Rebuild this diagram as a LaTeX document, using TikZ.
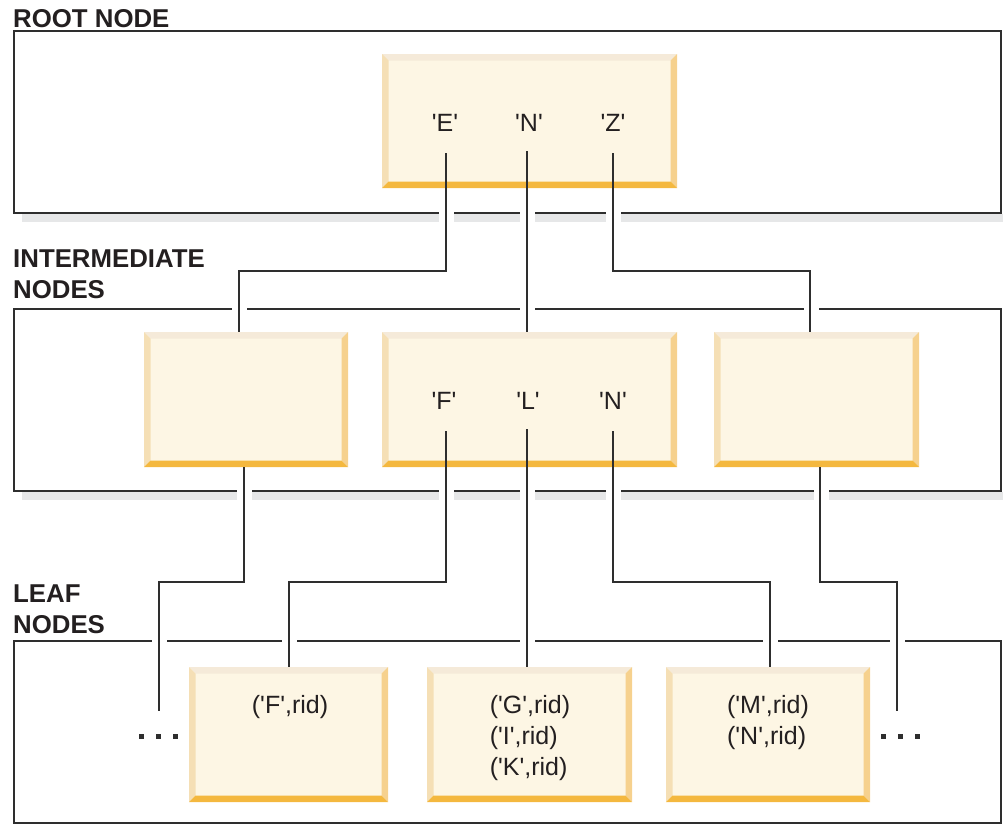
\documentclass[tikz,border=0pt]{standalone}
\usepackage{fontspec}
\newfontfamily\lsans{Liberation Sans}
\usetikzlibrary{calc}
\definecolor{boxfill}{HTML}{FDF6E4}
\definecolor{btop}{HTML}{F5EAD9}
\definecolor{bleft}{HTML}{F5DFB5}
\definecolor{bright}{HTML}{F6D18E}
\definecolor{bbot}{HTML}{F4B83F}
\definecolor{linec}{HTML}{2E2E2E}
\definecolor{textc}{HTML}{231F20}
\definecolor{shadc}{HTML}{E6E7E8}
\tikzset{
  panel/.style={draw=linec, line width=2pt},
  shad/.style={fill=shadc},
  conn/.style={draw=linec, line width=2pt},
  lab/.style={inner sep=0pt, anchor=base, text=textc},
  leaftext/.style={inner sep=0pt, anchor=north, align=left, text=textc},
  head/.style={inner sep=0pt, text=textc, font=\lsans\bfseries\fontsize{25.8}{31}\selectfont, align=left},
  dotsq/.style={fill=linec, minimum size=5pt, inner sep=0pt},
  bx/.style={rectangle, fill=boxfill, inner sep=0pt,
    path picture={
      \path (path picture bounding box.north west) coordinate (pa)
            (path picture bounding box.north east) coordinate (pb)
            (path picture bounding box.south east) coordinate (pc)
            (path picture bounding box.south west) coordinate (pd);
      \fill[btop] (pa) -- (pb) -- ([shift={(-6.5pt,-6.5pt)}]pb) -- ([shift={(6.5pt,-6.5pt)}]pa) -- cycle;
      \fill[bright] (pb) -- (pc) -- ([shift={(-6.5pt,6.5pt)}]pc) -- ([shift={(-6.5pt,-6.5pt)}]pb) -- cycle;
      \fill[bleft] (pa) -- (pd) -- ([shift={(6.5pt,6.5pt)}]pd) -- ([shift={(6.5pt,-6.5pt)}]pa) -- cycle;
      \fill[bbot] (pd) -- (pc) -- ([shift={(-6.5pt,6.5pt)}]pc) -- ([shift={(6.5pt,6.5pt)}]pd) -- cycle;
    }},
}
\begin{document}
\begin{tikzpicture}[x=1pt,y=-1pt,font=\lsans\fontsize{25}{31}\selectfont]
\useasboundingbox (0,0) rectangle (1003,825);
% panels with shadows
\fill[shad] (22,214) rectangle (1003,222);
\draw[panel] (14,31) rectangle (1001,213);
\fill[shad] (22,492) rectangle (1003,500);
\draw[panel] (14,309) rectangle (1001,491);
\draw[panel] (14,641) rectangle (1001,823);
% gaps where connectors cross panel borders
\foreach \x in {446,527,613} \fill[white] (\x-7.5,211) rectangle (\x+7.5,223);
\foreach \x in {239,527,811} \fill[white] (\x-7.5,307) rectangle (\x+7.5,311);
\foreach \x in {244,446,527,613,821} \fill[white] (\x-7.5,489) rectangle (\x+7.5,501);
\foreach \x in {159,289,527,770,897} \fill[white] (\x-7.5,639) rectangle (\x+7.5,643);
% headings
\node[head, anchor=base west] (hroot) at (13,27) {ROOT NODE};
\node[head, anchor=north west] (hint) at (13,250) {INTERMEDIATE\\NODES};
\node[head, anchor=north west] (hleaf) at (13,585) {LEAF\\NODES};
% boxes
\node[bx, minimum width=295pt, minimum height=134pt] (root) at (529.5,121) {};
\node[bx, minimum width=204pt, minimum height=135pt] (i1) at (246,399.5) {};
\node[bx, minimum width=295pt, minimum height=135pt] (i2) at (529.5,399.5) {};
\node[bx, minimum width=205pt, minimum height=135pt] (i3) at (816.5,399.5) {};
\node[bx, minimum width=199pt, minimum height=135pt] (l1) at (288.5,734.5) {};
\node[bx, minimum width=205pt, minimum height=135pt] (l2) at (529.5,734.5) {};
\node[bx, minimum width=204pt, minimum height=135pt] (l3) at (768,734.5) {};
% labels
\node[lab] (rE) at (445,131) {'E'};
\node[lab] (rN) at (529,131) {'N'};
\node[lab] (rZ) at (613,131) {'Z'};
\node[lab] (iF) at (444,409) {'F'};
\node[lab] (iL) at (528,409) {'L'};
\node[lab] (iN) at (613,409) {'N'};
\node[lab] (t1) at (290,713) {('F',rid)};
\node[leaftext] (t2) at (530,695) {('G',rid)\\('I',rid)\\('K',rid)};
\node[leaftext] (t3) at (768,695) {('M',rid)\\('N',rid)};
% dots
\node[dotsq] (dl1) at (141,736) {};
\node[dotsq] (dl2) at (158,736) {};
\node[dotsq] (dl3) at (175,736) {};
\node[dotsq] (dr1) at (883,736) {};
\node[dotsq] (dr2) at (900,736) {};
\node[dotsq] (dr3) at (917,736) {};
% connector anchors
\coordinate (rEs) at (446,153);
\coordinate (rNs) at (527,151);
\coordinate (rZs) at (613,153);
\coordinate (i1in) at ([xshift=95pt]i1.north west);
\coordinate (i2in) at (i2.north -| rNs);
\coordinate (i3in) at ([xshift=96pt]i3.north west);
\coordinate (i1out) at ([xshift=100pt]i1.south west);
\coordinate (iFs) at (446,431);
\coordinate (iLs) at (527,429);
\coordinate (iNs) at (613,431);
\coordinate (i3out) at ([xshift=106pt]i3.south west);
\coordinate (l1in) at ([xshift=100pt]l1.north west);
\coordinate (l2in) at (l2.north -| iLs);
\coordinate (l3in) at ([xshift=104pt]l3.north west);
\coordinate (dlend) at (159,711);
\coordinate (drend) at (897,711);
% connectors
\draw[conn] (rEs) -- ++(0,118) -| (i1in);
\draw[conn] (rNs) -- (i2in);
\draw[conn] (rZs) -- ++(0,118) -| (i3in);
\draw[conn] (i1out) -- ++(0,115) -| (dlend);
\draw[conn] (iFs) -- ++(0,151) -| (l1in);
\draw[conn] (iLs) -- (l2in);
\draw[conn] (iNs) -- ++(0,151) -| (l3in);
\draw[conn] (i3out) -- ++(0,115) -| (drend);
\end{tikzpicture}
\end{document}
